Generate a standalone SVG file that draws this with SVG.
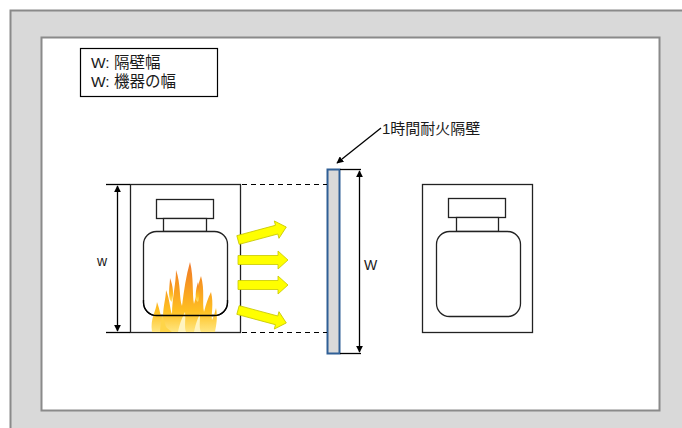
<svg xmlns="http://www.w3.org/2000/svg" width="682" height="428" viewBox="0 0 682 428">
  <style>
    .ln { fill: none; stroke: #000; stroke-width: 1.3; }
    .eq { fill: #fff; stroke: #222; stroke-width: 1.3; }
    .dash { fill: none; stroke: #000; stroke-width: 1.2; stroke-dasharray: 5 4; }
    .txt { font-family: "Liberation Sans", "Noto Sans CJK JP", sans-serif; font-size: 15px; fill: #1a1a1a; }
    .heat { fill: #ffff00; stroke: #c8c800; stroke-width: 0.8; }
  </style>
  <defs>
    <marker id="ah" viewBox="0 0 10 10" refX="9" refY="5" markerWidth="7" markerHeight="7" orient="auto-start-reverse" markerUnits="userSpaceOnUse">
      <path d="M0,0 L10,5 L0,10 z" fill="#000"/>
    </marker>
    <linearGradient id="flameGrad" x1="0" y1="1" x2="0" y2="0">
      <stop offset="0" stop-color="#ffe680"/>
      <stop offset="0.3" stop-color="#ffc020"/>
      <stop offset="0.75" stop-color="#f59020"/>
      <stop offset="1" stop-color="#f07a30"/>
    </linearGradient>
    <filter id="soft" x="-10%" y="-10%" width="120%" height="120%">
      <feGaussianBlur stdDeviation="0.6"/>
    </filter>
    <!-- block arrow pointing right, origin at tail centre -->
    <path id="heatArrow" d="M0,-4.5 L40,-4.5 L40,-9 L50,0 L40,9 L40,4.5 L0,4.5 z"/>
  </defs>

  <!-- background panels -->
  <rect x="10.5" y="10.5" width="690" height="430" fill="#d9d9d9" stroke="#8a8a8a" stroke-width="2"/>
  <rect x="41.5" y="37.5" width="618" height="373" fill="#fff" stroke="#8a8a8a" stroke-width="2"/>

  <!-- legend -->
  <g id="legend">
    <rect x="80.5" y="48.5" width="137" height="48" fill="#fff" stroke="#000" stroke-width="1.2"/>
    <text class="txt" x="91" y="68" style="font-size:15.5px">W: 隔壁幅</text>
    <text class="txt" x="91" y="87" style="font-size:15.5px">W: 機器の幅</text>
  </g>

  <!-- burning equipment -->
  <g id="equipment-left">
    <rect class="eq" x="130.5" y="184.5" width="110" height="148" stroke="#000"/>
    <rect class="eq" x="156.5" y="199.5" width="57" height="19"/>
    <rect class="eq" x="163.5" y="218.5" width="43" height="13"/>
    <rect class="eq" x="143.5" y="231.5" width="84" height="84" rx="13"/>
    <g id="fire" filter="url(#soft)" fill="url(#flameGrad)">
      <path d="M152,332 C150,318 156,312 157,302 C160,310 160,316 163,318 C163,306 166,298 166,290 C170,300 170,310 172,314 C172,298 176,284 176,270 C181,284 179,298 182,306 C184,290 186,276 190,262 C194,278 192,294 194,304 C197,294 198,284 201,276 C205,290 202,302 204,312 C206,304 208,298 211,292 C214,304 211,314 212,320 C214,316 215,312 216,308 C218,318 216,326 215,332 Z"/>
      <path d="M160,332 C160,326 162,320 162,315 C165,322 165,326 167,328 L172,332 Z" fill="#ffd54a"/>
      <path d="M170,300 C168,292 170,284 170,278 C173,286 174,294 172,302 Z"/>
      <path d="M196,300 C195,292 197,286 198,282 C200,290 200,296 198,302 Z"/>
      <path d="M178,332 C180,322 183,316 185,312 C186,320 184,326 186,332 Z" fill="#fff4c0"/>
      <path d="M194,332 C196,322 198,318 200,314 C200,322 199,328 201,332 Z" fill="#fff4c0"/>
    </g>
    <!-- body bottom edge drawn over the flames -->
    <path class="ln" d="M143.5,300 L143.5,302.5 A13,13 0 0 0 156.5,315.5 L214.5,315.5 A13,13 0 0 0 227.5,302.5 L227.5,300" stroke="#222"/>
  </g>

  <!-- heat arrows -->
  <g id="heat-arrows">
    <use href="#heatArrow" class="heat" transform="translate(238,240) rotate(-15)"/>
    <use href="#heatArrow" class="heat" transform="translate(238,260)"/>
    <use href="#heatArrow" class="heat" transform="translate(238,285)"/>
    <use href="#heatArrow" class="heat" transform="translate(238,310) rotate(15)"/>
  </g>

  <!-- fire wall -->
  <g id="firewall">
    <rect x="327.5" y="169.5" width="12" height="184" fill="#d9d9d9" stroke="#2f5f96" stroke-width="2"/>
  </g>

  <!-- protected equipment -->
  <g id="equipment-right">
    <rect class="eq" x="422.5" y="184.5" width="110" height="148" stroke="#000"/>
    <rect class="eq" x="448.5" y="198.5" width="57" height="19"/>
    <rect class="eq" x="456.5" y="217.5" width="42" height="14"/>
    <rect class="eq" x="436.5" y="231.5" width="84" height="85" rx="13"/>
  </g>

  <!-- connectors and dimensions -->
  <g id="connectors">
    <line class="ln" x1="106" y1="184.5" x2="130" y2="184.5"/>
    <line class="ln" x1="106" y1="332.5" x2="130" y2="332.5"/>
    <line class="ln" x1="117.5" y1="186" x2="117.5" y2="331" marker-start="url(#ah)" marker-end="url(#ah)"/>
    <line class="dash" x1="242" y1="184.5" x2="327" y2="184.5"/>
    <line class="dash" x1="242" y1="332.5" x2="327" y2="332.5"/>
    <line class="ln" x1="340" y1="169.5" x2="361" y2="169.5"/>
    <line class="ln" x1="340" y1="353.5" x2="361" y2="353.5"/>
    <line class="ln" x1="359.5" y1="171" x2="359.5" y2="352" marker-start="url(#ah)" marker-end="url(#ah)"/>
    <line class="ln" x1="381" y1="128" x2="337" y2="163" marker-end="url(#ah)"/>
  </g>

  <!-- labels -->
  <g id="labels">
    <text class="txt" x="97" y="266" style="font-size:14px">w</text>
    <text class="txt" x="364" y="270" style="font-size:14px">W</text>
    <text class="txt" x="382" y="134">1時間耐火隔壁</text>
  </g>
</svg>
